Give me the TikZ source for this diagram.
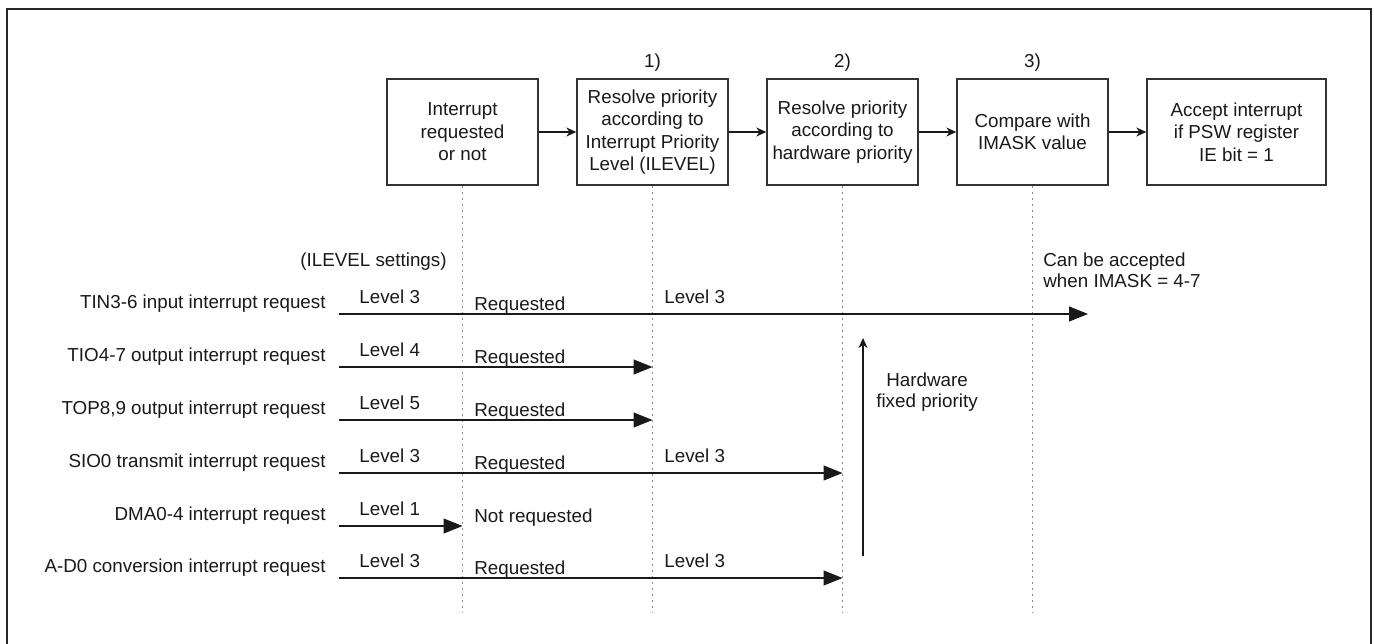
\documentclass[tikz,border=0pt]{standalone}
\usepackage{fontspec}
\setmainfont{Liberation Sans}
\usetikzlibrary{arrows.meta,positioning,calc}
\tikzset{
  box/.style={draw=black!80, line width=0.7pt, align=center, inner sep=2pt, minimum width=75.5pt, minimum height=53pt, font=\fontsize{9.4}{11.25}\selectfont, text=black!90},
  guide/.style={draw=black!45, line width=0.6pt, dash pattern=on 0.9pt off 2.1pt},
  flowarrow/.style={-{Stealth[length=5pt,width=4.5pt]}, line width=0.6pt, black!90},
  reqarrow/.style={-{Triangle[length=9.5pt,width=7.5pt]}, line width=0.6pt, black!90},
  lbl/.style={inner sep=0pt, font=\fontsize{9.4}{10.5}\selectfont, text=black!90},
  src/.style={lbl, anchor=base east},
  tag/.style={lbl, anchor=base west}
}
\begin{document}
\begin{tikzpicture}[x=0.5pt,y=-0.5pt,node distance=18.8pt]
\useasboundingbox (0,0) rectangle (1374,643);
\draw[line width=1pt, black!85] (7,9) rectangle (1371,690);

% processing stages
\node[box] (req) at (462.5,132) {Interrupt\\requested\\or not};
\node[box, right=of req] (ilv) {Resolve priority\\according to\\Interrupt Priority\\Level (ILEVEL)};
\node[box, right=of ilv] (hw) {Resolve priority\\according to\\hardware priority};
\node[box, right=of hw] (mask) {Compare with\\IMASK value};
\node[box, right=of mask, minimum width=89.5pt] (acc) {Accept interrupt\\if PSW register\\IE bit = 1};
\draw[flowarrow] (req) -- (ilv);
\draw[flowarrow] (ilv) -- (hw);
\draw[flowarrow] (hw) -- (mask);
\draw[flowarrow] (mask) -- (acc);
\node[lbl, anchor=base] (n1) at ([yshift=5.5pt]ilv.north) {1)};
\node[lbl, anchor=base] (n2) at ([yshift=5.5pt]hw.north) {2)};
\node[lbl, anchor=base] (n3) at ([yshift=5.5pt]mask.north) {3)};

% dotted guides
\coordinate (gbot) at (0,612);
\draw[guide] (req.south) -- (req.south |- gbot);
\draw[guide] (ilv.south) -- (ilv.south |- gbot);
\draw[guide] (hw.south) -- (hw.south |- gbot);
\draw[guide] (mask.south) -- (mask.south |- gbot);

\node[lbl, anchor=base east] (set) at (447,266) {(ILEVEL settings)};
\node[lbl, anchor=north west, align=left] (imask) at (1043,252) {Can be accepted\\when IMASK = 4-7};

% request lines
\node[src] (tin) at (326,308) {TIN3-6 input interrupt request};
\coordinate (tin0) at (339,314);
\coordinate (tin1) at (1088,314);
\draw[reqarrow] (tin0) -- (tin1);
\node[tag] (tinlv) at (359,303) {Level 3};
\node[tag] (tinrq) at (474,310) {Requested};
\node[tag] (tinlv2) at (664,303) {Level 3};

\node[src] (tio) at (326,361) {TIO4-7 output interrupt request};
\coordinate (tio0) at (339,367);
\coordinate (tio1) at (ilv.south |- tio0);
\draw[reqarrow] (tio0) -- (tio1);
\node[tag] (tiolv) at (359,356) {Level 4};
\node[tag] (tiorq) at (474,363) {Requested};

\node[src] (top) at (326,414) {TOP8,9 output interrupt request};
\coordinate (top0) at (339,420);
\coordinate (top1) at (ilv.south |- top0);
\draw[reqarrow] (top0) -- (top1);
\node[tag] (toplv) at (359,409) {Level 5};
\node[tag] (toprq) at (474,416) {Requested};

\node[src] (sio) at (326,467) {SIO0 transmit interrupt request};
\coordinate (sio0) at (339,473);
\coordinate (sio1) at (hw.south |- sio0);
\draw[reqarrow] (sio0) -- (sio1);
\node[tag] (siolv) at (359,462) {Level 3};
\node[tag] (siorq) at (474,469) {Requested};
\node[tag] (siolv2) at (664,462) {Level 3};

\node[src] (dma) at (326,520) {DMA0-4 interrupt request};
\coordinate (dma0) at (339,526);
\coordinate (dma1) at (req.south |- dma0);
\draw[reqarrow] (dma0) -- (dma1);
\node[tag] (dmalv) at (359,515) {Level 1};
\node[tag] (dmarq) at (474,522) {Not requested};

\node[src] (adc) at (326,572) {A-D0 conversion interrupt request};
\coordinate (adc0) at (339,578);
\coordinate (adc1) at (hw.south |- adc0);
\draw[reqarrow] (adc0) -- (adc1);
\node[tag] (adclv) at (359,567) {Level 3};
\node[tag] (adcrq) at (474,574) {Requested};
\node[tag] (adclv2) at (664,567) {Level 3};

% hardware priority
\coordinate (hwlo) at (863,556);
\coordinate (hwhi) at (863,338);
\draw[flowarrow] (hwlo) -- (hwhi);
\node[lbl, align=center] (hwtxt) at (927,392) {Hardware\\fixed priority};
\end{tikzpicture}
\end{document}
